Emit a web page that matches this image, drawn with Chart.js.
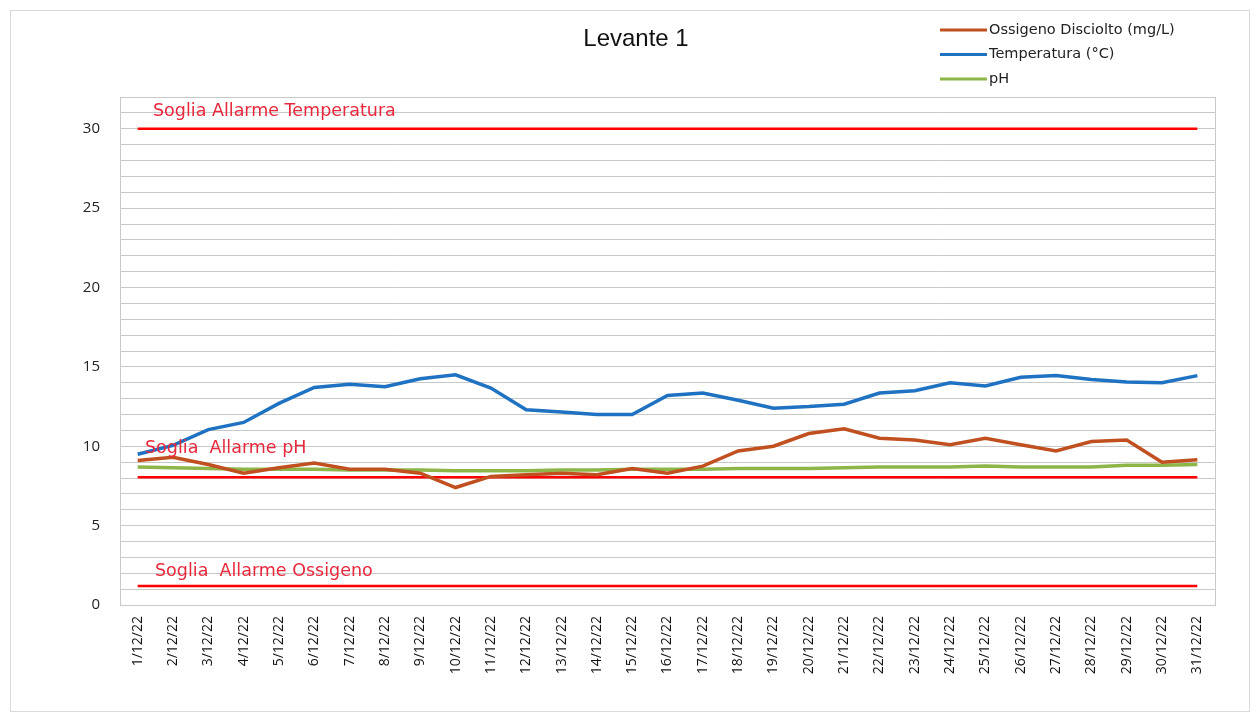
<!DOCTYPE html>
<html>
<head>
<meta charset="utf-8">
<script src="https://cdn.jsdelivr.net/npm/chart.js@4/dist/chart.umd.min.js"></script>
<style>
    html, body { margin: 0; padding: 0; background: #fff; }
    #cornice { position: absolute; left: 10px; top: 10px; width: 1238px; height: 700px; border: 1px solid #d9d9d9; }
    #wrap { position: absolute; left: 0; top: 0; width: 1259px; height: 719px; }
</style>
</head>
<body>
<div id="cornice"></div>
<div id="wrap"><canvas id="grafico"></canvas></div>
<script>
// dati
const giorni = [
    '1/12/22', '2/12/22', '3/12/22', '4/12/22', '5/12/22', '6/12/22', '7/12/22', '8/12/22',
    '9/12/22', '10/12/22', '11/12/22', '12/12/22', '13/12/22', '14/12/22', '15/12/22', '16/12/22',
    '17/12/22', '18/12/22', '19/12/22', '20/12/22', '21/12/22', '22/12/22', '23/12/22', '24/12/22',
    '25/12/22', '26/12/22', '27/12/22', '28/12/22', '29/12/22', '30/12/22', '31/12/22'
];
const ossigeno = [9.1, 9.3, 8.85, 8.3, 8.65, 8.95, 8.55, 8.55, 8.3, 7.4, 8.1, 8.2, 8.3, 8.2, 8.6, 8.3,
    8.75, 9.7, 10.0, 10.8, 11.1, 10.5, 10.4, 10.1, 10.5, 10.1, 9.7, 10.3, 10.4, 9.0, 9.15];
const temperatura = [9.5, 10.05, 11.05, 11.5, 12.7, 13.7, 13.9, 13.75, 14.25, 14.5, 13.67, 12.3, 12.15, 12.0, 12.0, 13.2,
    13.35, 12.9, 12.4, 12.5, 12.65, 13.35, 13.5, 14.0, 13.8, 14.35, 14.45, 14.2, 14.05, 14.0, 14.45];
const ph = [8.7, 8.65, 8.6, 8.55, 8.55, 8.55, 8.5, 8.5, 8.5, 8.45, 8.45, 8.45, 8.5, 8.5, 8.55, 8.55,
    8.55, 8.6, 8.6, 8.6, 8.65, 8.7, 8.7, 8.7, 8.75, 8.7, 8.7, 8.7, 8.8, 8.8, 8.85];

const sogliaTemperatura = 30;
const sogliaPH = 8.05;
const sogliaOssigeno = 1.2;

const yMin = 0;
const yMax = 32;
const yTickLabels = [0, 5, 10, 15, 20, 25, 30];

// titolo e legenda disegnati a mano (legenda solo per le 3 serie)
const legendaPlugin = {
    id: 'legendaPlugin',
    afterDraw(chart) {
        const ctx = chart.ctx;
        ctx.save();
        ctx.textBaseline = 'middle';
        ctx.fillStyle = '#111';
        ctx.font = '24px "Liberation Sans", Arial, sans-serif';
        ctx.textAlign = 'center';
        ctx.fillText('Levante 1', 636, 39);
        ctx.textAlign = 'left';
        ctx.font = '14.5px "DejaVu Sans", sans-serif';
        ctx.fillStyle = '#222';
        chart.data.datasets.slice(0, 3).forEach(function (ds, i) {
            const y = 30 + i * 24.5;
            ctx.strokeStyle = ds.borderColor;
            ctx.lineWidth = 3;
            ctx.beginPath();
            ctx.moveTo(940, y);
            ctx.lineTo(987, y);
            ctx.stroke();
            ctx.fillText(ds.label, 989, y);
        });
        ctx.restore();
    }
};

// scritte delle soglie + bordo destro dell'area
const soglieTesto = {
    id: 'soglieTesto',
    afterDatasetsDraw(chart, args, opts) {
        const ctx = chart.ctx;
        const y = chart.scales.y;
        const a = chart.chartArea;
        ctx.save();
        ctx.strokeStyle = '#c8c8c8';
        ctx.lineWidth = 1;
        ctx.beginPath();
        ctx.moveTo(a.right + 0.5, a.top);
        ctx.lineTo(a.right + 0.5, a.bottom);
        ctx.stroke();
        ctx.font = '17.5px "DejaVu Sans", sans-serif';
        ctx.fillStyle = '#e8283c';
        ctx.textBaseline = 'middle';
        opts.voci.forEach(function (v) {
            ctx.fillText(v.testo, v.x, y.getPixelForValue(v.valore) - v.su);
        });
        ctx.restore();
    }
};

function linea(label, data, colore, spessore, ordine) {
    return {
        label: label,
        data: data,
        borderColor: colore,
        backgroundColor: colore,
        borderWidth: spessore,
        pointRadius: 0,
        tension: 0,
        fill: false,
        order: ordine
    };
}

new Chart(document.getElementById('grafico'), {
    type: 'line',
    data: {
        labels: giorni,
        datasets: [
            linea('Ossigeno Disciolto (mg/L)', ossigeno, '#c0501f', 3.5, 1),
            linea('Temperatura (°C)', temperatura, '#1f72c2', 3.5, 0),
            linea('pH', ph, '#8db548', 3.5, 2),
            linea('Soglia Allarme Temperatura', giorni.map(() => sogliaTemperatura), '#ff0000', 2.5, 5),
            linea('Soglia Allarme pH', giorni.map(() => sogliaPH), '#ff0000', 2.5, 5),
            linea('Soglia Allarme Ossigeno', giorni.map(() => sogliaOssigeno), '#ff0000', 2.5, 5)
        ]
    },
    options: {
        responsive: true,
        maintainAspectRatio: false,
        animation: false,
        layout: { padding: { left: 10, right: 44, top: 97, bottom: 10 } },
        plugins: {
            legend: { display: false },
            tooltip: { enabled: false },
            title: { display: false },
            soglieTesto: {
                voci: [
                    { testo: 'Soglia Allarme Temperatura', valore: sogliaTemperatura, x: 153, su: 17 },
                    { testo: 'Soglia  Allarme pH', valore: sogliaPH, x: 145, su: 29 },
                    { testo: 'Soglia  Allarme Ossigeno', valore: sogliaOssigeno, x: 155, su: 14 }
                ]
            }
        },
        scales: {
            x: {
                offset: true,
                grid: { display: false },
                border: { display: true, color: '#c8c8c8' },
                ticks: {
                    autoSkip: false,
                    minRotation: 90,
                    maxRotation: 90,
                    padding: 3,
                    color: '#111',
                    font: { family: '"Open Sans", sans-serif', size: 14 }
                },
                afterFit(scale) { scale.height = 104; }
            },
            y: {
                min: yMin,
                max: yMax,
                grid: { color: '#c8c8c8', lineWidth: 1, drawTicks: false },
                border: { display: true, color: '#c8c8c8' },
                ticks: {
                    stepSize: 1,
                    autoSkip: false,
                    maxTicksLimit: 50,
                    padding: 20,
                    color: '#222',
                    font: { family: '"Open Sans", sans-serif', size: 15 },
                    callback: function (v) { return yTickLabels.includes(v) ? v : ''; }
                },
                afterFit(scale) { scale.width = 110; }
            }
        }
    },
    plugins: [legendaPlugin, soglieTesto]
});
</script>
</body>
</html>
